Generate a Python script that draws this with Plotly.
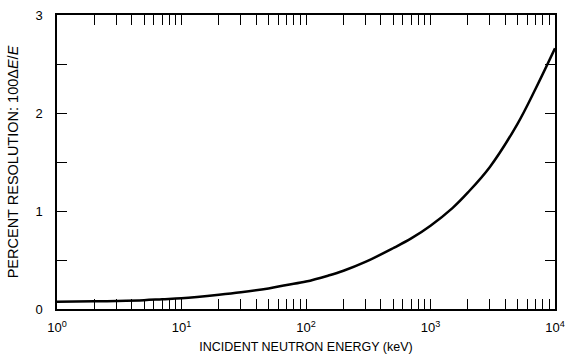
import plotly.graph_objects as go

# Data
energy_kev = [1, 2, 3, 5, 7, 10, 20, 30, 50, 70, 100, 150, 200, 300, 500, 700,
              1000, 1500, 2000, 3000, 5000, 7000, 10000]
resolution_pct = [0.075, 0.078, 0.082, 0.09, 0.10, 0.11, 0.145, 0.17, 0.21, 0.245, 0.28, 0.34,
                  0.39, 0.48, 0.62, 0.72, 0.85, 1.03, 1.19, 1.45, 1.89, 2.25, 2.66]

x_major_vals = [1, 10, 100, 1000, 10000]
x_major_text = ["10<sup>0</sup>", "10<sup>1</sup>", "10<sup>2</sup>", "10<sup>3</sup>", "10<sup>4</sup>"]
x_minor_vals = [m * 10 ** d for d in range(4) for m in range(2, 10)]
y_major_vals = [0, 1, 2, 3]
y_major_text = ["0", "1", "2", "3"]
y_minor_vals = [0.5, 1.5, 2.5]

font_family = "Liberation Sans, Arial, sans-serif"

fig = go.Figure()
fig.add_trace(go.Scatter(
    x=energy_kev, y=resolution_pct, mode="lines",
    line=dict(color="black", width=2.5, shape="spline", smoothing=1.0),
    showlegend=False, hoverinfo="skip",
))

fig.update_layout(
    width=565, height=358,
    margin=dict(l=57, r=10, t=15, b=49),
    paper_bgcolor="white", plot_bgcolor="white",
    font=dict(family=font_family, color="black", size=12),
    xaxis=dict(
        type="log", range=[0, 4], automargin=False,
        tickvals=x_major_vals, ticktext=x_major_text,
        ticks="inside", ticklen=10, tickwidth=1, tickcolor="black",
        minor=dict(tickvals=x_minor_vals, ticks="inside", ticklen=10, tickwidth=1,
                   tickcolor="black", showgrid=False),
        showgrid=False, zeroline=False,
        showline=True, linecolor="black", linewidth=1.5, mirror="ticks",
        tickfont=dict(size=13), ticklabelstandoff=6,
        title=dict(text="INCIDENT NEUTRON ENERGY (keV)", font=dict(size=12.5), standoff=8),
    ),
    yaxis=dict(
        range=[0, 3], automargin=False,
        tickvals=y_major_vals, ticktext=y_major_text,
        ticks="inside", ticklen=10, tickwidth=1, tickcolor="black",
        minor=dict(tickvals=y_minor_vals, ticks="inside", ticklen=10, tickwidth=1,
                   tickcolor="black", showgrid=False),
        showgrid=False, zeroline=False,
        showline=True, linecolor="black", linewidth=1.5, mirror="ticks",
        tickfont=dict(size=13), ticklabelstandoff=10,
        title=dict(text="PERCENT RESOLUTION: 100\u0394<i>E</i>/<i>E</i>", font=dict(size=14.5), standoff=13),
    ),
)

fig.write_html("out.html")
